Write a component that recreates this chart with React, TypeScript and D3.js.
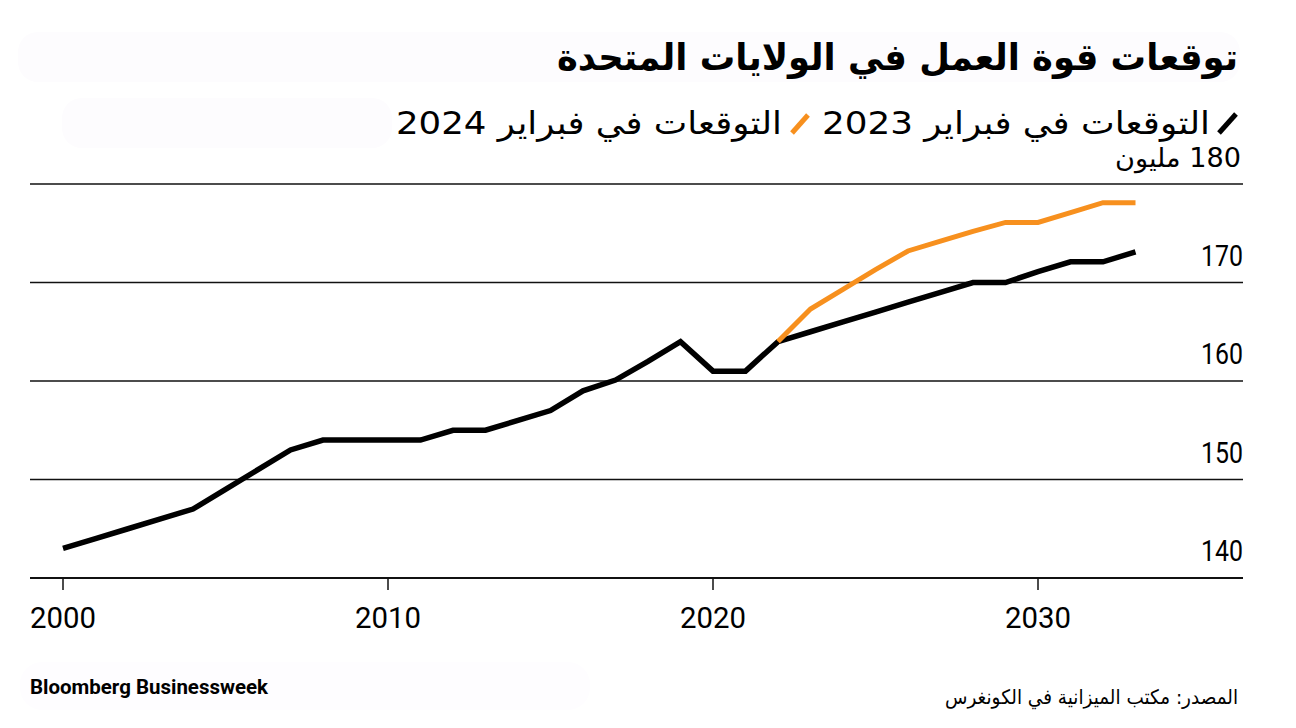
import React from "react";
import * as d3 from "d3";

const yearsFeb2023: number[] = [
  2000, 2001, 2002, 2003, 2004, 2005, 2006, 2007, 2008, 2009, 2010, 2011,
  2012, 2013, 2014, 2015, 2016, 2017, 2018, 2019, 2020, 2021, 2022, 2023,
  2024, 2025, 2026, 2027, 2028, 2029, 2030, 2031, 2032, 2033,
];
const valuesFeb2023: number[] = [
  143.0, 144.0, 145.0, 146.0, 147.0, 149.0, 151.0, 153.0, 154.0, 154.0, 154.0, 154.0,
  155.0, 155.0, 156.0, 157.0, 159.0, 160.1, 162.0, 164.0, 161.0, 161.0, 164.0, 165.0,
  166.0, 167.0, 168.0, 169.0, 170.0, 170.0, 171.1, 172.1, 172.1, 173.1,
];
const yearsFeb2024: number[] = [
  2022, 2023, 2024, 2025, 2026, 2027, 2028, 2029, 2030, 2031, 2032, 2033,
];
const valuesFeb2024: number[] = [
  164.0, 167.3, 169.3, 171.3, 173.2, 174.2, 175.2, 176.1, 176.1, 177.1, 178.1, 178.1,
];
const xTicks: number[] = [2000, 2010, 2020, 2030];
const yTicks: number[] = [140, 150, 160, 170, 180];

const titleText = "توقعات قوة العمل في الولايات المتحدة";
const legend2023 = "التوقعات في فبراير 2023";
const legend2024 = "التوقعات في فبراير 2024";
const unitText = "180 مليون";
const sourceText = "المصدر: مكتب الميزانية في الكونغرس";
const brandText = "Bloomberg Businessweek";

const ORANGE = "#f7901e";
const ARABIC = "'DejaVu Sans', 'Noto Sans', sans-serif";
const NUM = "Roboto, 'Liberation Sans', sans-serif";

export default function App() {
  const W = 1296;
  const H = 728;
  const x = d3.scaleLinear().domain([2000, 2030]).range([63, 1038]);
  const y = d3.scaleLinear().domain([140, 180]).range([578, 184]);
  const gridLeft = 30;
  const gridRight = 1243;

  const line = d3
    .line<[number, number]>()
    .x((d) => x(d[0]))
    .y((d) => y(d[1]));

  const d2023 = line(yearsFeb2023.map((yr, i) => [yr, valuesFeb2023[i]] as [number, number])) || "";
  const d2024 = line(yearsFeb2024.map((yr, i) => [yr, valuesFeb2024[i]] as [number, number])) || "";

  return (
    <svg
      width={W}
      height={H}
      viewBox={`0 0 ${W} ${H}`}
      style={{ position: "absolute", left: 0, top: 0, background: "#fff" }}
    >
      <rect x={0} y={0} width={W} height={H} fill="#ffffff" />
      {/* faint background bands */}
      <rect x={18} y={32} width={1222} height={50} rx={20} fill="#fdfcfe" />
      <rect x={62} y={98} width={330} height={50} rx={20} fill="#fdfcfe" />
      <rect x={20} y={662} width={570} height={48} rx={22} fill="#fefdff" />

      {/* title */}
      <text
        x={1238}
        y={70}
        direction="rtl"
        textAnchor="start"
        fontFamily={ARABIC}
        fontWeight={700}
        fontSize={37}
        textLength={681}
        lengthAdjust="spacingAndGlyphs"
        fill="#000"
      >
        {titleText}
      </text>

      {/* legend */}
      <line x1={1219} y1={133} x2={1236} y2={114} stroke="#000" strokeWidth={5} />
      <text
        x={1210}
        y={134}
        direction="rtl"
        textAnchor="start"
        fontFamily={ARABIC}
        fontSize={32}
        textLength={388}
        lengthAdjust="spacingAndGlyphs"
        fill="#000"
      >
        {legend2023}
      </text>
      <line x1={792} y1={133} x2={808} y2={115} stroke={ORANGE} strokeWidth={5} />
      <text
        x={782}
        y={134}
        direction="rtl"
        textAnchor="start"
        fontFamily={ARABIC}
        fontSize={32}
        textLength={386}
        lengthAdjust="spacingAndGlyphs"
        fill="#000"
      >
        {legend2024}
      </text>

      {/* gridlines */}
      {yTicks.map((t) => (
        <line
          key={`g${t}`}
          x1={gridLeft}
          x2={gridRight}
          y1={y(t)}
          y2={y(t)}
          stroke="#111"
          strokeWidth={t === 140 ? 2.2 : 1.6}
        />
      ))}

      {/* y labels */}
      {yTicks.map((t) =>
        t === 180 ? (
          <text
            key={`yl${t}`}
            x={1241}
            y={y(t) - 17}
            direction="rtl"
            textAnchor="start"
            fontFamily={ARABIC}
            fontSize={26}
            textLength={126}
            lengthAdjust="spacingAndGlyphs"
            fill="#000"
          >
            {unitText}
          </text>
        ) : (
          <text
            key={`yl${t}`}
            x={1243}
            y={y(t) - 17}
            textAnchor="end"
            fontFamily={NUM}
            fontSize={29}
            textLength={42}
            lengthAdjust="spacingAndGlyphs"
            fill="#000"
          >
            {t}
          </text>
        )
      )}

      {/* x ticks */}
      {xTicks.map((t) => (
        <g key={`x${t}`}>
          <line x1={x(t)} x2={x(t)} y1={y(140)} y2={y(140) + 12} stroke="#111" strokeWidth={1.5} />
          <text
            x={x(t)}
            y={628}
            textAnchor="middle"
            fontFamily={NUM}
            fontSize={30}
            textLength={66}
            lengthAdjust="spacingAndGlyphs"
            fill="#000"
          >
            {t}
          </text>
        </g>
      ))}

      {/* lines */}
      <path d={d2023} fill="none" stroke="#000" strokeWidth={5.5} strokeLinejoin="miter" />
      <path d={d2024} fill="none" stroke={ORANGE} strokeWidth={5} strokeLinejoin="miter" />

      {/* footer */}
      <text
        x={30}
        y={694}
        fontFamily={NUM}
        fontWeight={700}
        fontSize={20}
        textLength={238}
        lengthAdjust="spacingAndGlyphs"
        fill="#000"
      >
        {brandText}
      </text>
      <text
        x={1238}
        y={704}
        direction="rtl"
        textAnchor="start"
        fontFamily={ARABIC}
        fontSize={20}
        textLength={293}
        lengthAdjust="spacingAndGlyphs"
        fill="#000"
      >
        {sourceText}
      </text>
    </svg>
  );
}
